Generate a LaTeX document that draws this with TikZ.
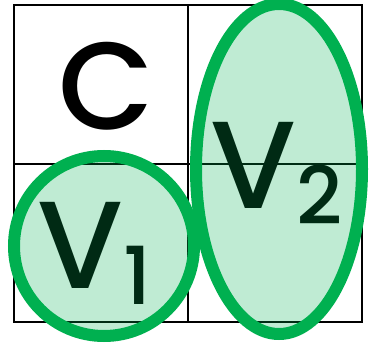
\documentclass[tikz,border=0pt]{standalone}
\usepackage{fontspec}
\setmainfont{Poppins}[UprightFont=* Medium]
\usepackage{tikz}
\usetikzlibrary{shapes.geometric, positioning}
\definecolor{vnGreen} {RGB}{0, 176, 80}
\definecolor{vnText}  {RGB}{0, 42, 20}

\newcommand{\biglbl}{\fontsize{124}{124}\selectfont}
\newcommand{\sublbl}{\fontsize{80}{80}\selectfont}
\newcommand{\vname}[1]{V\kern0pt\raisebox{-16pt}{\sublbl #1}}

\begin{document}
\begin{tikzpicture}[
  x=1pt, y=-1pt,
  grid/.style = {draw=black, line width=2pt},
  vset/.style = {
    ellipse, inner sep=0pt,
    draw=vnGreen, line width=12pt,
    fill=vnGreen, fill opacity=0.25, draw opacity=1
  },
  lbl/.style = {inner sep=0pt, anchor=base west, font=\biglbl}
]
  \useasboundingbox (0,0) rectangle (372,344);

  % the 2x2 table
  \draw[grid] (14,5) rectangle (362,322);
  \draw[grid] (188,5) -- (188,322);
  \draw[grid] (14,164) -- (362,164);

  \node[lbl] (c) at (58,130) {C};

  % the two sets
  \node[vset, minimum width=180pt, minimum height=180pt] (v1) at (104,246) {};
  \node[vset, minimum width=166pt, minimum height=330pt] (v2) at (279,169) {};

  \node[lbl, text=vnText] (v1lbl) at (37,289) {\vname{1}};
  \node[lbl, text=vnText] (v2lbl) at (210,209) {\vname{2}};
\end{tikzpicture}
\end{document}
